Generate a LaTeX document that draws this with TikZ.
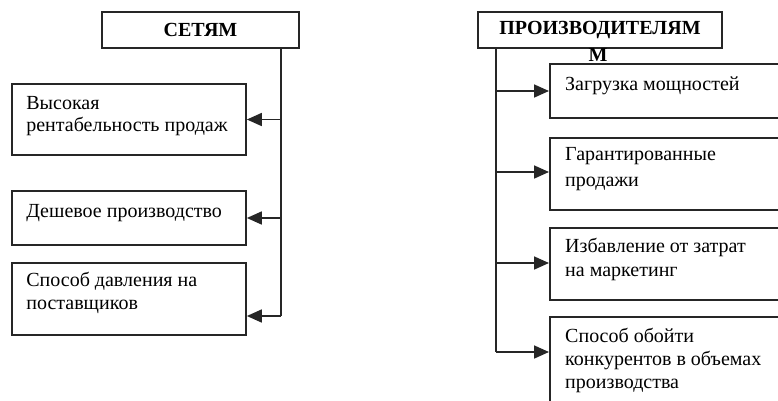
\documentclass[tikz,border=0pt]{standalone}
\usepackage{fontspec}
\setmainfont{Liberation Serif}
\usetikzlibrary{arrows.meta}
\begin{document}
\begin{tikzpicture}[x=1pt,y=-1pt,
  box/.style={draw=black!85, line width=1.7pt, rectangle, inner sep=0pt},
  hdr/.style={box, font=\fontsize{20}{24}\selectfont\bfseries},
  txt/.style={anchor=north west, inner sep=0pt, align=left, font=\fontsize{20}{23}\selectfont},
  txtone/.style={anchor=base west, inner sep=0pt, font=\fontsize{20}{23}\selectfont},
  conn/.style={draw=black!85, line width=1.7pt},
  arr/.style={conn, -{Triangle[length=15pt,width=13pt]}}]
\useasboundingbox (0,0) rectangle (778,400);
\clip (0,0) rectangle (778,400);
% left column
\node[hdr, minimum width=197, minimum height=36] (hl) at (200.5,30) {СЕТЯМ};
\node[box, minimum width=234, minimum height=71] (l1) at (129,119.5) {};
\node[box, minimum width=234, minimum height=54] (l2) at (129,218) {};
\node[box, minimum width=234, minimum height=72] (l3) at (129,299) {};
\node[txt, font=\fontsize{20}{22}\selectfont] (lt1) at ([xshift=15,yshift=-10.6]l1.north west) {\strut Высокая\\рентабельность продаж};
\node[txtone] (lt2) at ([xshift=15,yshift=-27]l2.north west) {Дешевое производство};
\node[txt] (lt3) at ([xshift=15,yshift=-7.9]l3.north west) {\strut Способ давления на\\поставщиков};
\coordinate (lv) at (281,316);
\draw[conn] (hl.south -| lv) -- (lv);
\draw[arr] (l1.east -| lv) -- (l1.east);
\draw[arr] (l2.east -| lv) -- (l2.east);
\draw[arr] (lv) -- (lv -| l3.east);
% right column
\node[hdr, minimum width=244, minimum height=36] (hr) at (600,30) {ПРОИЗВОДИТЕЛЯМ};
\node[inner sep=0pt, font=\fontsize{20}{24}\selectfont\bfseries] (hm) at (598,55) {М};
\node[box, minimum width=260, minimum height=54, anchor=north west] (r1) at (549,63) {};
\node[box, minimum width=260, minimum height=72, anchor=north west] (r2) at (549,137) {};
\node[box, minimum width=260, minimum height=72, anchor=north west] (r3) at (549,227) {};
\node[box, minimum width=260, minimum height=100, anchor=north west] (r4) at (549,316) {};
\node[txtone] (rt1) at ([xshift=16,yshift=-27]r1.north west) {Загрузка мощностей};
\node[txt, font=\fontsize{20}{26}\selectfont] (rt2) at ([xshift=16,yshift=-4.8]r2.north west) {\strut Гарантированные\\продажи};
\node[txt, font=\fontsize{20}{24}\selectfont] (rt3) at ([xshift=16,yshift=-8.2]r3.north west) {\strut Избавление от затрат\\на маркетинг};
\node[txt] (rt4) at ([xshift=16,yshift=-9.9]r4.north west) {\strut Способ обойти\\конкурентов в объемах\\производства};
\coordinate (rv) at (496,352);
\draw[conn] (rv |- hr.south) -- (rv);
\draw[arr] (rv |- 0,91) -- (r1.west |- 0,91);
\draw[arr] (rv |- 0,172) -- (r2.west |- 0,172);
\draw[arr] (rv |- 0,263) -- (r3.west |- 0,263);
\draw[arr] (rv) -- (r4.west |- rv);
\end{tikzpicture}
\end{document}
